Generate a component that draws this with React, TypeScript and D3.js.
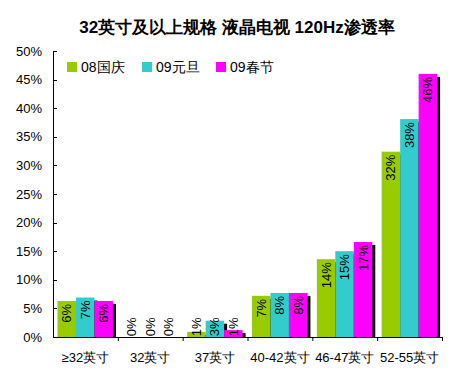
import React from "react";
import * as d3 from "d3";

const categories = ["≥32英寸", "32英寸", "37英寸", "40-42英寸", "46-47英寸", "52-55英寸"];
const seriesNames = ["08国庆", "09元旦", "09春节"];
const s08 = [6.3, 0, 0.9, 7.2, 13.6, 32.4];
const s09a = [6.9, 0, 2.85, 7.7, 15.0, 38.1];
const s09b = [6.3, 0, 1.2, 7.7, 16.6, 46.0];
const labels08 = ["6%", "0%", "1%", "7%", "14%", "32%"];
const labels09a = ["7%", "0%", "3%", "8%", "15%", "38%"];
const labels09b = ["6%", "0%", "1%", "8%", "17%", "46%"];
const colors = ["#99CC00", "#33CCCC", "#FF00FF"];
const yTicks = [0, 5, 10, 15, 20, 25, 30, 35, 40, 45, 50];

const W = 453, H = 374;
const left = 53, right = 442, top = 51, bottom = 337;

export default function App() {
  const x = d3.scaleBand<string>().domain(categories).range([left, right]).paddingInner(0).paddingOuter(0);
  const y = d3.scaleLinear().domain([0, 50]).range([bottom, top]);
  const series = [s08, s09a, s09b];
  const labs = [labels08, labels09a, labels09b];
  const bw = x.bandwidth();
  const groupW = bw * 0.855;
  const barW = groupW / 3;
  const off = 4.5;
  const fs = 13;
  const font = "'Liberation Sans', Arial, sans-serif";
  const measure = (t: string) => t.length * fs * 0.6;

  const bars: any[] = [];
  categories.forEach((c, i) => {
    series.forEach((s, j) => {
      bars.push({ c, i, j, v: s[i], lab: labs[j][i], x0: (x(c) as number) + off + j * barW });
    });
  });

  return (
    <div style={{ position: "absolute", left: 0, top: 0 }}>
      <svg width={W} height={H} style={{ display: "block", background: "#fff" }}>
        <text x={237} y={33} textAnchor="middle" fontFamily={font} fontWeight="bold" fontSize={17}>
          32英寸及以上规格 液晶电视 120Hz渗透率
        </text>
        {/* y axis */}
        <line x1={left + 0.5} x2={left + 0.5} y1={top} y2={bottom} stroke="#000" />
        {yTicks.map((t) => (
          <g key={t}>
            <line x1={left} x2={left + 4} y1={Math.round(y(t)) + 0.5} y2={Math.round(y(t)) + 0.5} stroke="#000" />
            <text x={42} y={y(t) + 4.5} textAnchor="end" fontFamily={font} fontSize={13}>{t}%</text>
          </g>
        ))}
        {/* shadows */}
        {bars.map((b, k) => {
          const yt = y(b.v);
          const h = bottom - yt - 3;
          return h > 0 ? <rect key={"s" + k} x={b.x0 + 3} y={yt + 3} width={barW} height={h} fill="#000" /> : null;
        })}
        {bars.map((b, k) => (
          <rect key={"b" + k} x={b.x0} y={y(b.v)} width={barW} height={bottom - y(b.v)} fill={colors[b.j]} />
        ))}
        {/* x axis */}
        <line x1={left} x2={right} y1={bottom + 0.5} y2={bottom + 0.5} stroke="#000" />
        {categories.map((c) => (
          <line key={"t" + c} x1={(x(c) as number) + bw + 0.5} x2={(x(c) as number) + bw + 0.5} y1={bottom} y2={bottom + 4} stroke="#000" />
        ))}
        {categories.map((c) => (
          <text key={"l" + c} x={(x(c) as number) + bw / 2} y={362} textAnchor="middle" fontFamily={font} fontSize={13}>{c}</text>
        ))}
        {/* value labels */}
        {bars.map((b, k) => {
          const len = measure(b.lab);
          const yt = y(b.v);
          const topY = Math.min(yt + 3, bottom - 4 - len);
          const cx = b.x0 + barW / 2;
          return (
            <text key={"v" + k} transform={`translate(${cx + 4.5},${topY}) rotate(-90)`} textAnchor="end"
              fontFamily={font} fontSize={fs}>{b.lab}</text>
          );
        })}
        {/* legend */}
        {seriesNames.map((n, j) => {
          const lx = [67, 142, 216][j];
          return (
            <g key={n}>
              <rect x={lx} y={62} width={10} height={10} fill={colors[j]} />
              <text x={lx + 14} y={72} fontFamily={font} fontSize={14}>{n}</text>
            </g>
          );
        })}
      </svg>
    </div>
  );
}
